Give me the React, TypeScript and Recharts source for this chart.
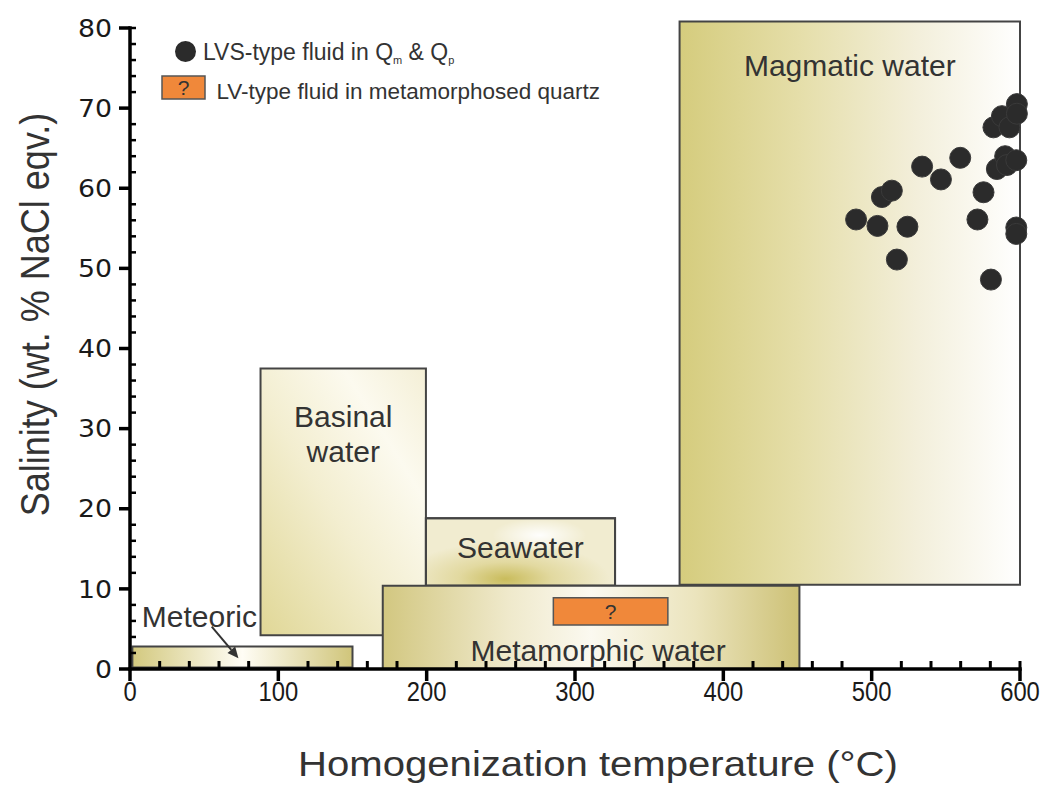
import React from 'react';
import { ScatterChart, Scatter, XAxis, YAxis, ReferenceArea, ReferenceLine } from 'recharts';

// ---------- data ----------
const xTicks = [0, 100, 200, 300, 400, 500, 600];
const yTicks = [0, 10, 20, 30, 40, 50, 60, 70, 80];
const xMinorTicks = [20, 40, 60, 80, 120, 140, 160, 180, 220, 240, 260, 280, 320, 340, 360, 380, 420, 440, 460, 480, 520, 540, 560, 580, 600];
const yMinorTicks = [2, 4, 6, 8, 12, 14, 16, 18, 22, 24, 26, 28, 32, 34, 36, 38, 42, 44, 46, 48, 52, 54, 56, 58, 62, 64, 66, 68, 72, 74, 76, 78, 80];

// LVS-type fluid inclusions: homogenization temperature (°C) and salinity (wt.% NaCl eqv.)
const lvsTemperature = [489.5, 503.9, 506.9, 513.6, 524.1, 517.0, 534.0, 546.7, 559.7, 575.4, 571.3, 580.4, 582.1, 587.8, 592.9, 597.9, 597.9, 584.4, 590.0, 591.2, 597.5, 597.5, 597.5];
const lvsSalinity = [56.1, 55.3, 58.9, 59.7, 55.2, 51.1, 62.7, 61.1, 63.8, 59.5, 56.1, 48.6, 67.6, 69.0, 67.6, 70.5, 69.3, 62.4, 64.0, 62.9, 63.5, 55.1, 54.3];

// Fluid source fields
const regionNames = ['Meteoric', 'Basinal water', 'Seawater', 'Metamorphic water', 'Magmatic water'];
const regionKeys = ['meteoric', 'basinal', 'seawater', 'metamorphic', 'magmatic'];
const regionTempMin = [1.6, 88.0, 199.5, 170.4, 370.5];
const regionTempMax = [150.0, 199.5, 327.0, 451.3, 600.0];
const regionSalMin = [0.2, 4.2, 10.4, 0.0, 10.5];
const regionSalMax = [2.8, 37.5, 18.8, 10.4, 80.8];

// LV-type fluid in metamorphosed quartz (uncertain field)
const lvTempRange = [285.4, 362.6];
const lvSalRange = [5.5, 8.9];

// Meteoric arrow (from label to field)
const arrowFrom = { x: 55.1, y: 5.3 };
const arrowTo = { x: 73.1, y: 1.35 };

const scatterData = lvsTemperature.map((t, i) => ({ t, s: lvsSalinity[i] }));

const FONT = '"Liberation Sans", Arial, sans-serif';
const TEXT_COLOR = '#333';
const AXIS_COLOR = '#000000';

// x tick: label plus the outward (downward) major tick mark
const XTick = (props: any) => {
  const { x, y, payload } = props;
  return (
    <g>
      <line x1={x} x2={x} y1={y - 13} y2={y - 1} stroke={AXIS_COLOR} strokeWidth={3.5} />
      <text
        transform={`translate(${x},${y + 19}) scale(0.85,1)`}
        textAnchor="middle"
        fontSize={28}
        fontFamily={FONT}
        fill="#1a1a1a"
      >
        {payload.value}
      </text>
    </g>
  );
};

// y tick: label plus the outward (leftward) major tick mark
const YTick = (props: any) => {
  const { x, y, payload } = props;
  return (
    <g>
      <line x1={x + 7} x2={x + 18} y1={y} y2={y} stroke={AXIS_COLOR} strokeWidth={3.5} />
      <text
        transform={`translate(${x},${y}) scale(1.115,1)`}
        y={8.7}
        textAnchor="end"
        fontSize={24}
        fontFamily='"DejaVu Sans", Verdana, sans-serif'
        fill="#1a1a1a"
      >
        {payload.value}
      </text>
    </g>
  );
};

const regionLabel = (key: string) => (props: any) => {
  const vb = props.viewBox || {};
  const { x = 0, y = 0, width = 0, height = 0 } = vb;
  const common = { fontFamily: FONT, fill: TEXT_COLOR, fontSize: 30 } as any;
  if (key === 'magmatic') {
    return (
      <text x={x + width / 2} y={y + 54} textAnchor="middle" {...common}>
        Magmatic water
      </text>
    );
  }
  if (key === 'basinal') {
    return (
      <g>
        <text x={x + width / 2} y={y + 58.5} textAnchor="middle" {...common}>Basinal</text>
        <text x={x + width / 2} y={y + 93.5} textAnchor="middle" {...common}>water</text>
      </g>
    );
  }
  if (key === 'seawater') {
    return (
      <text x={x + width / 2} y={y + 40} textAnchor="middle" {...common}>
        Seawater
      </text>
    );
  }
  if (key === 'metamorphic') {
    return (
      <text x={x + width / 2 + 7} y={y + height - 8.5} textAnchor="middle" {...common}>
        Metamorphic water
      </text>
    );
  }
  if (key === 'meteoric') {
    return (
      <text x={x + 9.5} y={y - 19.5} textAnchor="start" {...common}>
        Meteoric
      </text>
    );
  }
  return null;
};

const questionLabel = (props: any) => {
  const { x = 0, y = 0, width = 0, height = 0 } = props.viewBox || {};
  return (
    <text x={x + width / 2} y={y + height / 2 + 7.5} textAnchor="middle" fontSize={21} fontFamily={FONT} fill={TEXT_COLOR}>
      ?
    </text>
  );
};

const ArrowShape = (props: any) => {
  const { x1, y1, x2, y2 } = props;
  const dx = x2 - x1;
  const dy = y2 - y1;
  const len = Math.sqrt(dx * dx + dy * dy) || 1;
  const ux = dx / len;
  const uy = dy / len;
  const head = 11;
  const half = 5;
  const bx = x2 - ux * head;
  const by = y2 - uy * head;
  return (
    <g>
      <line x1={x1} y1={y1} x2={bx} y2={by} stroke="#333" strokeWidth={2} />
      <polygon
        points={`${x2},${y2} ${bx - uy * half},${by + ux * half} ${bx + uy * half},${by - ux * half}`}
        fill="#333"
      />
    </g>
  );
};

// inward minor tick marks drawn from the library's computed reference-line positions
const yMinorTickShape = (p: any) => {
  const left = Math.min(p.x1, p.x2);
  return <line x1={left} x2={left + 6} y1={p.y1} y2={p.y1} stroke={AXIS_COLOR} strokeWidth={2.5} />;
};
const xMinorTickShape = (p: any) => {
  const bottom = Math.max(p.y1, p.y2);
  return <line x1={p.x1} x2={p.x1} y1={bottom - 8} y2={bottom} stroke={AXIS_COLOR} strokeWidth={3} />;
};

const YTitle = (props: any) => {
  const { x = 0, y = 0, width = 0, height = 0 } = props.viewBox || {};
  const cx = x + 49;
  const cy = y + height / 2 - 34;
  return (
    <g>
      <line x1={x + width} x2={x + width} y1={y - 1.75} y2={y + height + 1.75} stroke={AXIS_COLOR} strokeWidth={3.5} />
      <text
        transform={`translate(${cx},${cy}) scale(1.12,1) rotate(-90)`}
        textAnchor="middle"
        fontSize={36}
        fontFamily={FONT}
        fill={TEXT_COLOR}
      >
        Salinity (wt. % NaCl eqv.)
      </text>
    </g>
  );
};

const XTitle = (props: any) => {
  const { x = 0, y = 0, width = 0 } = props.viewBox || {};
  const cx = x + width / 2 + 23;
  const cy = y + 107;
  return (
    <g>
      <line x1={x - 1.75} x2={x + width + 1.75} y1={y} y2={y} stroke={AXIS_COLOR} strokeWidth={3.5} />
      <text
        transform={`translate(${cx},${cy}) scale(1.114,1)`}
        textAnchor="middle"
        fontSize={36}
        fontFamily={FONT}
        fill={TEXT_COLOR}
      >
        Homogenization temperature (°C)
      </text>
    </g>
  );
};

export default function App() {
  const areas: any[] = [];
  regionNames.forEach((name, i) => {
    areas.push(
      <ReferenceArea
        key={name}
        x1={regionTempMin[i]}
        x2={regionTempMax[i]}
        y1={regionSalMin[i]}
        y2={regionSalMax[i]}
        fill={`url(#g-${regionKeys[i]})`}
        fillOpacity={1}
        stroke="#444"
        strokeWidth={2}
        ifOverflow="visible"
        label={regionKeys[i] === 'seawater' ? undefined : regionLabel(regionKeys[i])}
      />
    );
    if (regionKeys[i] === 'seawater') {
      areas.push(
        <ReferenceArea
          key="seawater-highlight"
          x1={regionTempMin[i]}
          x2={regionTempMax[i]}
          y1={regionSalMin[i]}
          y2={regionSalMax[i]}
          fill="url(#g-seawater-hl)"
          fillOpacity={1}
          stroke="#444"
          strokeWidth={2}
          ifOverflow="visible"
          label={regionLabel('seawater')}
        />
      );
    }
  });

  return (
    <div style={{ position: 'absolute', left: 0, top: 0, background: '#fff' }}>
      <ScatterChart width={1044} height={785} margin={{ top: 28, right: 24, bottom: 0, left: 0 }}>
        <defs>
          <linearGradient id="g-meteoric" x1="0" y1="0" x2="1" y2="0">
            <stop offset="0" stopColor="#d3c97f" />
            <stop offset="0.5" stopColor="#fffdf5" />
            <stop offset="1" stopColor="#d0c57a" />
          </linearGradient>
          <linearGradient id="g-basinal" x1="0" y1="1" x2="1" y2="0">
            <stop offset="0" stopColor="#e0d796" />
            <stop offset="0.45" stopColor="#f3eed0" />
            <stop offset="0.75" stopColor="#fcfaef" />
            <stop offset="1" stopColor="#f4efd6" />
          </linearGradient>
          <radialGradient id="g-seawater" cx="0.42" cy="0.9" r="0.55" fx="0.42" fy="0.9">
            <stop offset="0" stopColor="#c9bc5c" />
            <stop offset="0.45" stopColor="#e2d9a0" />
            <stop offset="1" stopColor="#f1ecd0" />
          </radialGradient>
          <radialGradient id="g-seawater-hl" cx="0.6" cy="0.25" r="0.25">
            <stop offset="0" stopColor="#ffffff" stopOpacity="0.95" />
            <stop offset="1" stopColor="#ffffff" stopOpacity="0" />
          </radialGradient>
          <linearGradient id="g-metamorphic" x1="0" y1="0" x2="1" y2="0">
            <stop offset="0" stopColor="#d2c780" />
            <stop offset="0.3" stopColor="#efe9cb" />
            <stop offset="0.5" stopColor="#fbf9f0" />
            <stop offset="0.75" stopColor="#ebe4bd" />
            <stop offset="1" stopColor="#cdc176" />
          </linearGradient>
          <linearGradient id="g-magmatic" x1="0" y1="0" x2="1" y2="0">
            <stop offset="0" stopColor="#d5cc7d" />
            <stop offset="0.35" stopColor="#e5dea9" />
            <stop offset="0.7" stopColor="#f3efdb" />
            <stop offset="1" stopColor="#ffffff" />
          </linearGradient>
        </defs>

        <XAxis
          type="number"
          dataKey="t"
          domain={[0, 600]}
          ticks={xTicks}
          height={116}
          tickSize={11}
          tickMargin={2}
          axisLine={false}
          tickLine={false}
          tick={(p: any) => <XTick {...p} />}
          label={(p: any) => <XTitle {...p} />}
        />
        <YAxis
          type="number"
          dataKey="s"
          domain={[0, 80]}
          ticks={yTicks}
          width={130}
          tickSize={10}
          tickMargin={8}
          axisLine={false}
          tickLine={false}
          tick={(p: any) => <YTick {...p} />}
          label={(p: any) => <YTitle {...p} />}
        />

        {areas}

        <ReferenceArea
          x1={lvTempRange[0]}
          x2={lvTempRange[1]}
          y1={lvSalRange[0]}
          y2={lvSalRange[1]}
          fill="#f0883a"
          fillOpacity={1}
          stroke="#555"
          strokeWidth={1.5}
          ifOverflow="visible"
          label={questionLabel}
        />

        <ReferenceLine
          segment={[arrowFrom, arrowTo]}
          ifOverflow="visible"
          shape={(p: any) => <ArrowShape {...p} />}
        />

        <Scatter
          data={scatterData}
          isAnimationActive={false}
          shape={(p: any) => <circle cx={p.cx} cy={p.cy} r={10.5} fill="#2b2b2b" stroke="#3a3a3a" strokeWidth={1} />}
        />

        {yMinorTicks.map((v) => (
          <ReferenceLine key={`ymin-${v}`} y={v} ifOverflow="visible" shape={yMinorTickShape} />
        ))}
        {xMinorTicks.map((v) => (
          <ReferenceLine key={`xmin-${v}`} x={v} ifOverflow="visible" shape={xMinorTickShape} />
        ))}

        <g>
          <circle cx={185.5} cy={51.5} r={10.5} fill="#2b2b2b" />
          <text x={203} y={60} fontSize={23} fontFamily={FONT} fill={TEXT_COLOR}>
            LVS-type fluid in Q
            <tspan fontSize={11} dy={4}>m</tspan>
            <tspan fontSize={23} dy={-4}> &amp; Q</tspan>
            <tspan fontSize={11} dy={4}>p</tspan>
          </text>
          <rect x={162} y={76} width={43} height={23} fill="#f0883a" stroke="#555" strokeWidth={1.5} />
          <text x={183.5} y={95} textAnchor="middle" fontSize={21} fontFamily={FONT} fill={TEXT_COLOR}>?</text>
          <text x={216.5} y={99.3} fontSize={22.5} fontFamily={FONT} fill={TEXT_COLOR}>
            LV-type fluid in metamorphosed quartz
          </text>
        </g>
      </ScatterChart>
    </div>
  );
}
